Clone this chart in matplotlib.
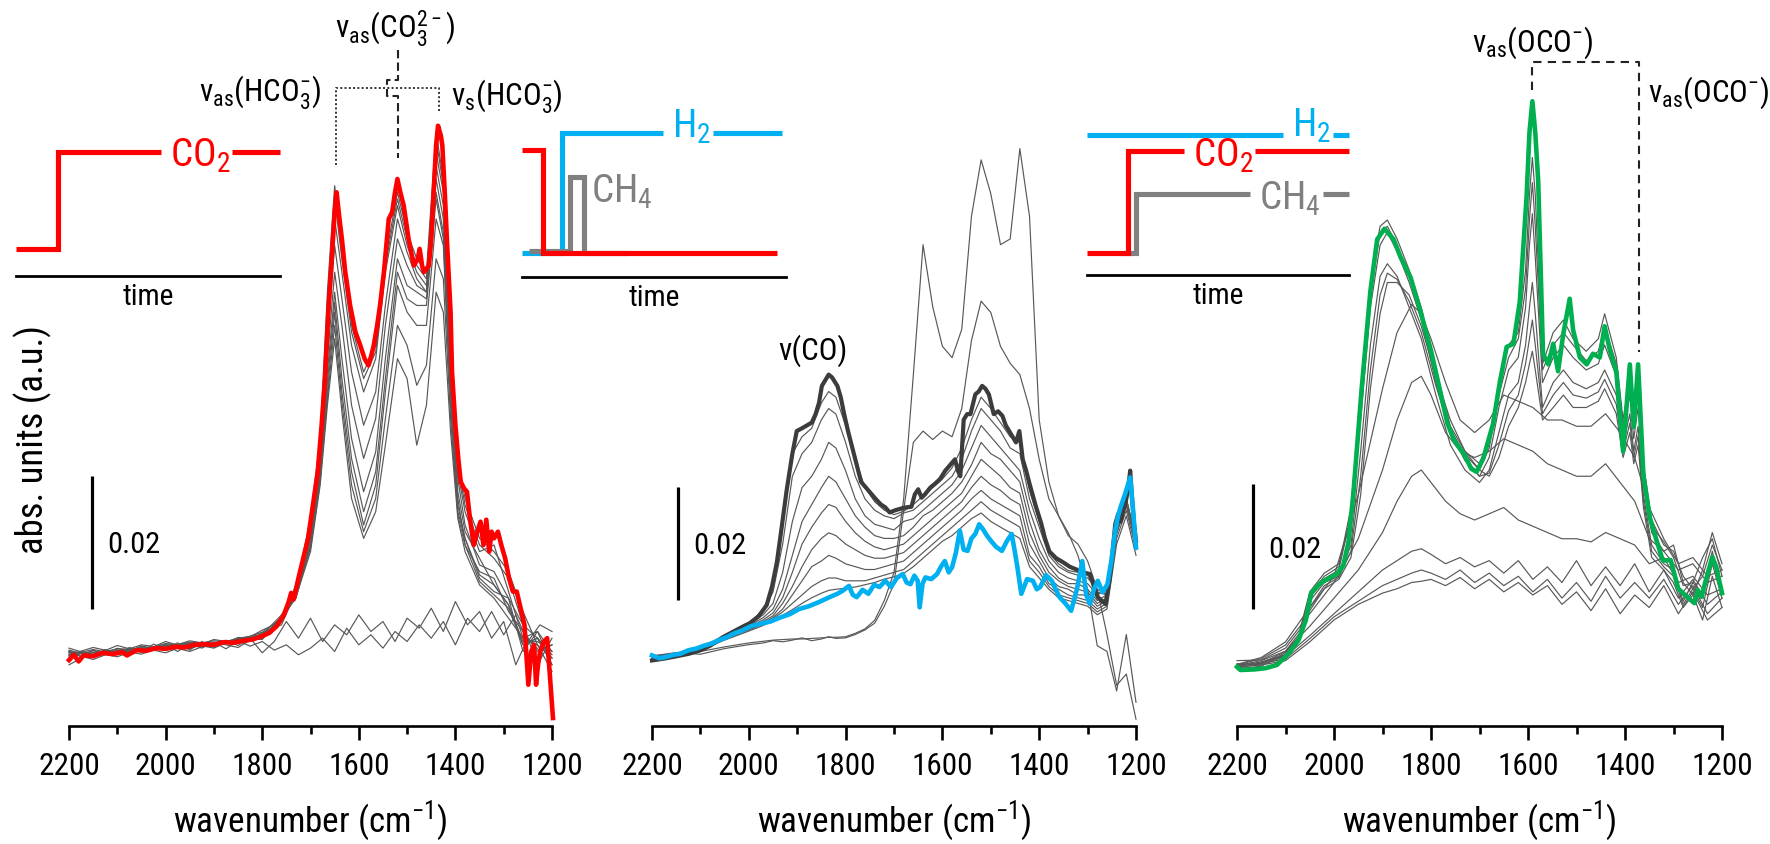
import numpy as np
import matplotlib
matplotlib.use('Agg')
import matplotlib.pyplot as plt
from matplotlib import font_manager
from matplotlib.ticker import MultipleLocator

# narrow face if there is one, else Liberation Sans
_available = {f.name for f in font_manager.fontManager.ttflist}
FONT, K = 'Liberation Sans', 1.0
for cand in ('Liberation Sans Narrow', 'Arial Narrow', 'Roboto Condensed', 'Noto Sans Condensed'):
    if cand in _available:
        FONT, K = cand, 1.15
        break

plt.rcParams['font.family'] = [FONT, 'DejaVu Sans']
plt.rcParams['mathtext.fontset'] = 'custom'
plt.rcParams['mathtext.rm'] = FONT
plt.rcParams['mathtext.it'] = FONT + ':italic'
plt.rcParams['mathtext.default'] = 'regular'

# absorbance values are in units of 0.001 (scale bar = 0.02 -> 20)

# ---- panel 1 : CO2 adsorption (red = last spectrum)
p1_red_wn = [2200, 2190, 2180, 2170, 2150, 2130, 2110, 2090, 2080, 2060, 2040, 2020, 2000, 1980, 1960, 1940,
             1920, 1900, 1880, 1860, 1840, 1820, 1800, 1785, 1770, 1755, 1745, 1740, 1735, 1725, 1715, 1705,
             1695, 1685, 1677, 1670, 1663, 1656, 1650, 1646, 1640, 1635, 1628, 1618, 1607, 1597, 1588, 1580,
             1574, 1569, 1562, 1556, 1548, 1538, 1531, 1525, 1520, 1514, 1507, 1497, 1486, 1478, 1474, 1469,
             1465, 1455, 1450, 1445, 1440, 1436, 1430, 1427, 1422, 1417, 1410, 1407, 1400, 1394, 1389, 1382,
             1376, 1370, 1362, 1355, 1348, 1342, 1336, 1330, 1325, 1320, 1312, 1305, 1297, 1289, 1281, 1273,
             1265, 1257, 1249, 1243, 1237, 1233, 1229, 1225, 1217, 1210, 1205, 1198]
p1_red = [-0.3, 0.5, -0.5, 0.4, 0.3, 0.8, 0.6, 0.9, 0.4, 1.2, 1.1, 1.5, 1.4, 1.7, 1.6, 2.0,
          2.1, 2.0, 2.4, 2.3, 2.6, 2.8, 3.3, 3.8, 4.8, 6.5, 8.5, 9.8, 8.8, 12, 15, 18,
          23, 28, 35, 42, 52, 60, 67, 70, 66, 63, 58, 53, 49, 47, 45, 44,
          45.5, 47, 50, 53, 58, 66, 67, 70, 72, 70, 68, 63, 59, 60, 61.5, 59,
          58, 59, 63, 70, 77, 80, 78.5, 77, 70, 62, 52, 43, 35, 30, 26.5, 25.5,
          25, 21, 17, 19, 20.5, 17, 20.8, 16, 19, 18, 19, 17, 15, 12, 10, 10,
          7.5, 5, -4, 1, 2, -4, -1, 0.8, 2.5, 3, -2, -9]

p1_grid = [2200, 2150, 2100, 2050, 2000, 1950, 1900, 1850, 1800, 1760, 1730, 1700, 1680, 1665, 1650, 1635,
           1615, 1590, 1565, 1545, 1520, 1500, 1480, 1460, 1440, 1425, 1410, 1395, 1380, 1350, 1320, 1290,
           1260, 1230, 1200]
p1_gray = [
    [0.5, 1.6, 0.8, 2.0, 1.5, 2.6, 2.0, 3.0, 3.5, 6.5, 10.5, 21, 33, 55, 71, 62, 50, 43, 47, 60, 70, 64, 60, 58,
     79, 72, 50, 30, 24, 18, 16, 13, 7, 2, -2],
    [1.0, 0.6, 1.4, 1.3, 2.1, 2.0, 2.3, 2.7, 3.9, 6.0, 10.8, 20, 32, 53, 69, 60, 49, 42, 46, 59, 69, 63, 59, 57,
     78, 71, 48, 29, 23, 17, 15, 12, 5, 3, -1],
    [1.5, 0.4, 1.9, 0.9, 2.5, 1.4, 2.8, 2.2, 4.2, 5.5, 11, 19, 30, 50, 66, 58, 47, 40, 45, 58, 68, 62, 58, 56,
     76, 70, 46, 28, 22, 16, 17, 10, 3, 4, 1],
    [-1, 0.9, 0.2, 1.6, 0.8, 2.2, 1.5, 3.1, 2.8, 6.0, 9.5, 20, 31, 48, 62, 54, 43, 35, 40, 53, 66, 61, 57, 55,
     74, 68, 44, 27, 20, 14, 13, 9, 5, -1, 3],
    [0.8, -0.2, 1.2, 0.6, 1.9, 1.0, 2.4, 1.6, 3.8, 5.0, 10, 18, 29, 45, 58, 50, 38, 30, 36, 50, 63, 59, 56, 55,
     72, 66, 42, 25, 19, 15, 11, 8, 2, 3, 0],
    [0.2, 1.1, 0.5, 1.8, 1.2, 2.0, 2.6, 2.3, 3.0, 6.2, 9, 17, 28, 43, 55, 45, 33, 25, 31, 45, 60, 56, 55, 54,
     70, 64, 40, 24, 17, 13, 12, 7, 4, 1, 2],
    [0.6, 0.8, 1.0, 1.4, 1.7, 2.3, 2.1, 2.8, 3.3, 6.0, 9.4, 17.5, 27.5, 41.5, 53.5, 42, 30, 22, 28, 42, 58, 54,
     53, 53, 69, 63, 39, 23, 18, 12.5, 11, 8, 2.5, 2.5, 1],
    [1.2, 0.2, 1.4, 1.0, 2.2, 1.7, 1.8, 2.9, 3.6, 5.5, 9.8, 17, 27, 40, 52, 40, 28, 20, 26, 40, 56, 52, 50, 50,
     66, 62, 38, 22, 18, 12, 10, 9, 1, 4, -1],
    [0.9, 0.5, 1.1, 1.2, 1.9, 2.1, 2.0, 2.7, 3.4, 5.6, 9.5, 16.5, 26.5, 39, 50, 38.5, 26, 19, 24, 36, 50, 47,
     41, 44, 60, 57, 36, 21.5, 17, 11.5, 9.5, 7.5, 2, 3, 0.5],
    [0.4, 1.3, 0.6, 1.5, 1.5, 2.4, 2.2, 2.6, 3.2, 5.8, 9.2, 16, 26, 38, 48, 37, 24, 18, 22, 32, 45, 42, 32, 38,
     55, 52, 34, 21, 16, 11, 9, 6, 3, 2, 0],
]
p1_flat_grid = [2200, 2175, 2150, 2125, 2100, 2075, 2050, 2025, 2000, 1975, 1950, 1925, 1900, 1875, 1850, 1825,
                1800, 1775, 1750, 1725, 1700, 1675, 1650, 1625, 1600, 1575, 1550, 1525, 1500, 1475, 1450, 1425,
                1400, 1375, 1350, 1325, 1300, 1275, 1250, 1225, 1200]
p1_flat = [
    [1.0, 0.2, 1.2, 0.5, 1.5, 0.8, 1.8, 1.2, 2.0, 1.0, 2.2, 1.5, 2.4, 1.4, 2.6, 1.8, 2.5, 1.2, 2.0, 0.5,
     1.5, 3.0, 1.0, 4.5, 2.0, 3.5, 1.5, 4.0, 2.5, 5.0, 3.0, 5.5, 2.0, 6.0, 4.0, 7.0, 3.5, 6.5, 2.5, 5.0, 4.0],
    [0.0, 1.0, 0.3, 1.3, 0.6, 1.6, 1.0, 2.1, 1.4, 2.3, 1.2, 2.5, 1.6, 2.7, 1.9, 3.0, 0.8, 2.5, 5.5, 3.0,
     6.0, 2.5, 5.0, 3.5, 6.5, 4.0, 5.5, 2.5, 6.0, 4.5, 7.5, 4.0, 8.5, 5.0, 7.0, 3.0, 5.5, -1.0, 3.0, 1.0, 2.0],
]

# ---- panel 2 : switch to H2 (dark = first spectrum, blue = last)
p2_dark_wn = [2200, 2170, 2140, 2123, 2100, 2080, 2054, 2030, 2010, 1998, 1980, 1963, 1952, 1942, 1932, 1922,
              1910, 1901, 1890, 1880, 1870, 1862, 1855, 1849, 1842, 1835, 1828, 1817, 1810, 1803, 1795, 1786,
              1777, 1768, 1758, 1748, 1738, 1727, 1718, 1709, 1697, 1685, 1675, 1664, 1657, 1650, 1643, 1636,
              1625, 1615, 1605, 1594, 1584, 1574, 1568, 1563, 1556, 1549, 1542, 1532, 1525, 1518, 1511, 1504,
              1494, 1485, 1476, 1469, 1462, 1455, 1448, 1441, 1434, 1427, 1420, 1408, 1396, 1388, 1379, 1365,
              1351, 1337, 1323, 1310, 1295, 1287, 1279, 1271, 1263, 1255, 1249, 1243, 1237, 1232, 1226, 1220,
              1216, 1212, 1208, 1204, 1200]
p2_dark = [-0.6, -0.2, 0.3, 0.6, 1.2, 2.0, 3.5, 4.6, 5.5, 6.0, 7.2, 9.2, 12.5, 16.8, 23, 29.4,
           36, 40, 40.5, 41, 41.5, 43, 45, 48, 49, 50, 49.5, 48, 46, 43, 40, 37,
           34, 31, 30, 29, 28, 27, 26.5, 25.6, 26, 26.3, 26.5, 26.6, 28.8, 29.7, 28.2, 28.8,
           30, 30.7, 31.5, 33, 34, 35, 33, 32, 42, 43, 43, 46.5, 47, 48, 47.5, 46.5,
           43, 43.5, 42.7, 41, 40, 39, 38, 40, 35, 33, 30.7, 27, 23.7, 21, 18.7, 17.5,
           16.8, 16, 15.5, 15, 14.7, 12.5, 10.6, 10, 9.4, 13.5, 18, 23.5, 25.3, 24, 26, 28,
           30, 33, 28, 23.5, 20.6]
p2_blue_wn = [2200, 2185, 2172, 2155, 2141, 2125, 2109, 2093, 2077, 2062, 2046, 2030, 2014, 1995, 1975, 1955,
              1935, 1915, 1896, 1876, 1856, 1836, 1817, 1805, 1793, 1785, 1777, 1765, 1753, 1741, 1730, 1718,
              1706, 1694, 1682, 1674, 1666, 1658, 1651, 1647, 1641, 1635, 1623, 1611, 1603, 1595, 1587, 1580,
              1572, 1564, 1556, 1548, 1540, 1532, 1524, 1516, 1508, 1500, 1489, 1477, 1467, 1457, 1451, 1445,
              1437, 1425, 1413, 1405, 1398, 1386, 1374, 1366, 1358, 1346, 1334, 1322, 1311, 1303, 1295, 1287,
              1279, 1269, 1259, 1251, 1243, 1237, 1232, 1222, 1212, 1206, 1200]
p2_blue = [0.3, -0.2, 0.0, 0.4, 0.6, 1.2, 1.5, 2.0, 2.4, 3.0, 3.5, 4.2, 4.7, 5.5, 5.9, 6.3,
           7.0, 7.6, 8.5, 9.0, 9.7, 10.5, 11.2, 11.8, 12.6, 11.0, 10.6, 11.9, 11.2, 12.8, 12.4, 13.5,
           12.4, 14.0, 14.7, 13.2, 12.9, 14.4, 13.5, 8.8, 13.0, 14.1, 13.8, 14.7, 16.0, 17.0, 15.0, 15.9,
           18.5, 22.4, 19.0, 18.8, 21.0, 21.8, 23.5, 22.6, 21.5, 20.6, 19.5, 18.8, 20.5, 21.8, 19.0, 15.9,
           11.2, 13.8, 13.5, 12.0, 12.4, 14.5, 13.5, 12.0, 10.6, 9.5, 8.2, 12.0, 17.0, 11.0, 9.4, 12.0,
           13.5, 11.5, 12.9, 17.0, 22.4, 25.0, 26.5, 29.0, 31.8, 26.0, 19.4]

p2_grid = [2200, 2150, 2100, 2050, 2000, 1970, 1950, 1930, 1910, 1890, 1870, 1850, 1835, 1820, 1800, 1780,
           1760, 1740, 1720, 1700, 1680, 1660, 1640, 1620, 1600, 1580, 1560, 1540, 1520, 1500, 1480, 1460,
           1440, 1420, 1400, 1380, 1360, 1340, 1320, 1300, 1280, 1260, 1240, 1220, 1200]
p2_gray = [
    [-0.5, 0.3, 1.5, 3.7, 5.9, 8.4, 12.5, 24, 36, 39, 40.5, 45, 47, 46, 41, 35, 30, 27.5, 26, 25.2, 25.8, 27,
     28.5, 30, 31.5, 33.5, 37, 42, 46, 44, 41.5, 39, 38, 29.5, 24, 18.5, 16.5, 15.3, 15, 14.5, 11.5, 11, 23,
     28, 20.5],
    [-0.4, 0.4, 1.7, 3.8, 6.0, 8.3, 11.5, 20, 32, 36, 38, 42, 44, 43, 38, 32, 28, 26, 25, 24.5, 25.5, 26, 27.5,
     29, 30.5, 32, 35, 40, 44, 42, 40, 37, 36, 28, 23, 18, 16, 15, 14.5, 14, 12, 11, 22, 27, 20],
    [-0.5, 0.5, 1.6, 3.6, 5.8, 7.5, 9.5, 15, 24, 30, 32, 35, 38, 37, 33, 28, 25, 23.5, 23, 22.5, 24, 24.5, 26,
     27.5, 29, 30.5, 33, 37, 41, 39, 37, 35, 33, 26, 21, 17, 15, 14, 13.5, 13, 11, 12, 22, 27, 20],
    [0.0, 0.7, 1.8, 3.5, 5.5, 7.0, 8.5, 12, 18, 24, 27, 30, 32, 31, 28, 25, 23, 21.5, 21, 21, 21.5, 23, 25,
     26, 27.5, 29, 31, 34, 38, 36, 35, 33, 31, 24, 19, 16, 14, 13, 13, 12, 10, 11, 23, 28, 21],
    [-0.3, 0.3, 1.5, 3.4, 5.3, 6.6, 7.8, 10.5, 15, 20, 23, 25.5, 27, 26.5, 24, 22, 20.5, 19.5, 19, 19.5, 20,
     21.5, 23, 24.5, 26, 27.5, 29, 32, 35, 33.5, 32, 30, 29, 22, 18, 15, 13.5, 12.5, 12, 11.5, 9.5, 10.5, 22,
     27, 20],
    [0.2, 0.6, 1.6, 3.3, 5.1, 6.3, 7.3, 9.5, 12.5, 16, 19, 21, 22, 21.5, 20, 19, 18, 17.5, 17.5, 18, 18.5, 20,
     21.5, 23, 24.5, 26, 27.5, 30, 32, 30.5, 29.5, 28, 27, 20, 17, 14, 12.5, 12, 11, 11, 9, 10, 23, 28, 21],
    [-0.2, 0.4, 1.4, 3.2, 4.9, 6.0, 7.0, 8.5, 11, 13.5, 16, 17, 18, 17.5, 16.5, 16, 15.5, 15.5, 16, 16.5, 17,
     18.5, 20, 21.5, 23, 24.5, 26, 28, 29.5, 28, 27, 26, 25, 18, 16, 13, 12, 11, 10.5, 10, 8.5, 9.5, 22, 27, 20],
    [0.0, 0.5, 1.5, 3.2, 4.8, 5.8, 6.8, 8, 9.5, 11, 12.5, 13.5, 14, 14, 13.5, 13.5, 13.5, 14, 14.5, 15, 15.5,
     17, 18.5, 20, 21.5, 23, 24.5, 26, 27.5, 26, 25, 24, 23, 17, 15, 12.5, 11, 10.5, 10, 9.5, 8, 9, 21, 26, 19],
    [0.1, 0.2, 1.2, 3.0, 4.6, 5.6, 6.5, 7.4, 8.4, 9.5, 10.5, 11.3, 11.8, 12.0, 12.2, 12.4, 12.8, 13.2, 13.8,
     14.2, 14.8, 16, 17.5, 19, 20.5, 21.5, 23, 24.5, 25.5, 24, 23, 22, 21, 16, 14, 12, 10.5, 10, 9.5, 9, 7.5,
     8.5, 20, 25, 18],
    # early spectra still carrying carbonate bands
    [-0.5, 0.3, 1.0, 1.8, 2.5, 2.8, 3.0, 3.1, 3.2, 3.2, 3.3, 3.4, 3.5, 3.5, 3.6, 4.2, 5.0, 6.5, 10, 15, 28,
     50, 73, 62, 55, 53, 58, 78, 88, 82, 73, 74, 90, 78, 42, 31, 25, 21.5, 20, 17, 12, 4, -5, -3, -11],
    [0.2, 0.8, 0.5, 1.5, 2.2, 2.5, 2.9, 2.7, 3.0, 3.4, 2.9, 3.2, 3.6, 3.3, 3.4, 4.0, 4.8, 6.0, 9, 13, 26, 38,
     40, 38.5, 40, 39, 44, 56, 63, 61, 55, 52, 50, 44, 35, 28, 25, 22, 18, 12, 2, 1, -6, 4, -8],
]

# ---- panel 3 : CO2 + H2 (green = last spectrum)
p3_green_wn = [2200, 2193, 2163, 2141, 2118, 2096, 2073, 2058, 2047, 2028, 2006, 1995, 1981, 1970, 1960, 1943,
               1925, 1911, 1896, 1877, 1863, 1842, 1821, 1800, 1779, 1766, 1752, 1731, 1717, 1706, 1692, 1672,
               1658, 1644, 1630, 1617, 1603, 1597, 1591, 1585, 1579, 1569, 1558, 1548, 1538, 1527, 1514, 1507,
               1493, 1479, 1466, 1452, 1442, 1431, 1418, 1404, 1390, 1382, 1373, 1362, 1349, 1336, 1322, 1306,
               1290, 1272, 1257, 1250, 1242, 1235, 1220, 1212, 1200]
p3_green = [0.5, 0, 0.1, 0.3, 0.8, 2.4, 4.8, 8, 12.3, 13.9, 14.9, 15.3, 16.7, 20.5, 28.3, 45,
            60.6, 68.9, 70.6, 68.9, 66.1, 62.8, 57.2, 51.1, 43.9, 39.4, 36.7, 34.4, 32.2, 31.7, 33.9, 39.4,
            46.1, 51.7, 52.2, 58.9, 75.6, 86, 91, 86, 78.3, 50.6, 48.9, 52.2, 47.8, 53.9, 59.4, 54.4,
            50, 48.9, 50.6, 50, 55, 51.1, 47.8, 35, 48.9, 38.9, 48.9, 31.1, 24.4, 21, 17.5, 17.6,
            13, 11.7, 10.7, 12.8, 11.7, 13.9, 18.1, 16.5, 12.3]

p3_grid = [2200, 2150, 2100, 2070, 2050, 2020, 1990, 1965, 1945, 1925, 1905, 1890, 1870, 1845, 1820, 1790,
           1760, 1730, 1700, 1680, 1660, 1640, 1620, 1605, 1597, 1591, 1585, 1570, 1548, 1527, 1507, 1480,
           1455, 1442, 1418, 1404, 1390, 1382, 1373, 1362, 1345, 1320, 1300, 1280, 1260, 1240, 1220, 1200]
p3_gray = [
    [0.8, 1.0, 3.0, 6.0, 12, 15, 16.5, 26, 44, 62, 71, 72, 69, 64, 58, 48, 39, 35, 33, 37, 46, 52, 54, 64,
     76, 82, 76, 49, 54, 56, 53, 51, 53, 57, 50, 40, 47, 41, 46, 33, 24, 20, 19, 15, 13, 15, 20, 16],
    [0.2, 0.6, 2.8, 5.6, 11.5, 14.6, 16, 25, 42, 60, 70, 71, 68, 63, 57, 47, 38.5, 34.5, 32, 35.5, 44, 50, 53,
     61, 72, 78, 71, 48, 52, 54, 52, 49.5, 51, 55, 49, 39, 45.5, 39, 44, 31.5, 23, 20.5, 18, 13.5, 14, 18, 21,
     15],
    [1.5, 1.6, 3.5, 6.5, 12.5, 15.5, 17, 24, 40, 58, 68, 70, 67, 62, 56, 46, 38, 34, 31, 34, 42, 48, 50, 58,
     68, 73, 66, 46, 50, 52, 50, 48, 49, 52, 47, 38, 44, 37, 42, 30, 22, 19, 20, 14, 12, 16, 22, 17],
    [0.5, 1.3, 2.5, 5.5, 11, 14, 15, 20, 35, 52, 63, 65, 63, 58, 53, 44, 36, 32, 30, 32, 38, 44, 46, 52,
     58, 62, 57, 42, 46, 48, 46, 45, 46, 48, 44, 36, 41, 35, 39, 28, 20, 17, 16, 11, 14, 12, 19, 13],
    [0.8, 1.1, 2.4, 5.2, 10, 13.5, 14.8, 19, 31, 48, 60, 63.5, 62.5, 59, 54, 45.5, 38, 33.5, 31, 31.5, 36,
     41.5, 44, 49, 53, 56, 52, 41, 44, 46, 44, 43.5, 44.5, 46.5, 42.5, 35, 39.5, 34, 37.5, 27, 19, 16.5, 15,
     10.5, 13, 10, 17, 11.5],
    [1.0, 0.8, 2.2, 5.0, 9.5, 13, 14.5, 18, 28, 45, 57, 62, 62, 60, 55, 47, 40, 35, 32, 31, 34, 39, 42, 46,
     49, 51, 48, 40, 42, 44, 42, 42, 43, 45, 41, 34, 38, 33, 36, 26, 18, 16, 14, 10, 12, 8, 15, 10],
]
p3_low_grid = [2200, 2150, 2100, 2050, 2000, 1950, 1900, 1870, 1840, 1820, 1800, 1770, 1740, 1710, 1680, 1650,
               1620, 1590, 1560, 1530, 1500, 1470, 1440, 1410, 1380, 1350, 1320, 1290, 1260, 1230, 1200]
p3_low = [
    [0.5, 0.8, 1.5, 4.5, 8.0, 10.5, 12.3, 13.0, 14.0, 14.2, 14.5, 13.5, 14.8, 13.0, 14.5, 12.5, 14.0, 12.0,
     13.5, 10.5, 12.5, 9.5, 13.0, 9.0, 12.0, 10.0, 13.5, 9.0, 12.5, 8.0, 10.0],
    [0.3, 1.0, 1.8, 5.0, 8.5, 11.0, 13.5, 14.5, 15.5, 16.0, 15.5, 14.5, 16.0, 14.0, 15.5, 13.5, 15.0, 12.5,
     14.5, 11.5, 14.0, 11.0, 15.0, 11.5, 14.0, 11.5, 14.5, 10.5, 13.5, 9.0, 11.5],
    [0.6, 1.2, 2.2, 5.5, 9.0, 12.5, 16.0, 17.5, 19.0, 19.4, 18.5, 17.0, 18.0, 16.5, 17.5, 15.5, 17.5, 14.5,
     16.5, 14.0, 17.5, 13.5, 16.5, 13.5, 17.0, 12.5, 16.0, 11.5, 14.5, 10.5, 12.5],
    [0.7, 1.5, 3.0, 7.0, 11.5, 16, 22, 27, 31, 32, 30, 27, 25, 24, 25, 26, 24, 23, 22, 21, 21, 20.5, 22, 21,
     20, 17, 18, 14, 15, 12, 13],
    [0.8, 1.8, 4.0, 9.0, 14.0, 21, 32, 40, 46, 47, 44, 38, 35, 34, 35, 37, 36, 35, 33, 32, 31, 31, 33, 30,
     27, 21, 19, 16, 17, 14, 15],
    [0.9, 2.0, 4.5, 10.0, 15.0, 28, 45, 54, 58.5, 57, 53, 46, 40, 38, 40, 44, 43, 42, 40, 40, 39, 39, 41, 38,
     34, 26, 21, 17, 18, 15, 16],
]

# scale bars (x in cm-1, bottom in 0.001 abs units)
bar_len = 20
bar_x = [2152, 2146, 2167]
bar_bottom = [7.35, 10.1, 9.7]

# band markers
hco3_peaks = [1647, 1433]
hco3_feet = [74.1, 82.1]
hco3_level = 85.7
co3_peak = 1518
co3_hop_x = 1542
co3_levels = [91.4, 86.9, 84.4, 75.2]
oco_peaks = [1591, 1372]
oco_feet = [92.8, 50.9]
oco_level = 97.3

# gas-switch schematics (time 0..1, relative level)
in1_co2_t, in1_co2 = [0, 0.159, 0.159, 1.0], [0, 0, 1, 1]
in2_co2_t, in2_co2 = [0, 0.080, 0.080, 0.966], [1, 1, 0, 0]
in2_h2_t, in2_h2 = [0, 0.152, 0.152, 0.985], [0, 0, 1.165, 1.165]
in2_ch4_t, in2_ch4 = [0.027, 0.182, 0.182, 0.235, 0.235, 0.4], [0.02, 0.02, 0.738, 0.738, 0, 0]
in3_h2_t, in3_h2 = [0, 1.0], [1.157, 1.157]
in3_co2_t, in3_co2 = [0, 0.156, 0.156, 1.0], [0, 0, 1, 1]
in3_ch4_t, in3_ch4 = [0.12, 0.187, 0.187, 1.0], [0, 0, 0.578, 0.578]

RED = '#ff0000'
BLUE = '#00b0f0'
GREEN = '#00b050'
DARK = '#3c3c3c'
GRAY = '#585858'
SCHEME_GRAY = '#808080'

W, H = 1770, 844
fig = plt.figure(figsize=(W / 100, H / 100), dpi=100)
fig.patch.set_facecolor('white')


def px_axes(left, right, top, bottom):
    return fig.add_axes([left / W, 1 - bottom / H, (right - left) / W, (bottom - top) / H])


def spectrum_axes(left, right, ylim):
    ax = px_axes(left, right, 0, 726)
    ax.set_xlim(2200, 1200)
    ax.set_ylim(*ylim)
    ax.patch.set_alpha(0)
    for s in ('top', 'left', 'right'):
        ax.spines[s].set_visible(False)
    ax.spines['bottom'].set_linewidth(1.9)
    ax.set_yticks([])
    ax.xaxis.set_major_locator(MultipleLocator(200))
    ax.xaxis.set_minor_locator(MultipleLocator(100))
    ax.tick_params(axis='x', which='major', length=10, width=1.9, direction='out', labelsize=19.5 * K, pad=9)
    ax.tick_params(axis='x', which='minor', length=5.5, width=1.9, direction='out')
    ax.set_xlabel('wavenumber (cm$^{-1}$)', fontsize=22 * K, labelpad=13)
    return ax


def scale_bar(ax, x, y0):
    ax.plot([x, x], [y0, y0 + bar_len], color='black', lw=2.3, solid_capstyle='butt', clip_on=False)
    ax.annotate('%.2f' % (bar_len / 1000), xy=(x, y0 + bar_len / 2), xytext=(11, -2),
                textcoords='offset points', ha='left', va='center', fontsize=19 * K)


ax1 = spectrum_axes(69, 552, (-10.2, 98.9))
ax2 = spectrum_axes(652, 1136, (-12.2, 116.3))
ax3 = spectrum_axes(1237, 1722, (-8.96, 107.2))

ANN = 19.5 * K

# panel 1
for y in p1_flat:
    ax1.plot(p1_flat_grid, y, color=GRAY, lw=0.85, clip_on=False)
for y in p1_gray:
    ax1.plot(p1_grid, y, color=GRAY, lw=0.85, clip_on=False)
ax1.plot(p1_red_wn, p1_red, color=RED, lw=3.3, clip_on=False, zorder=3)
scale_bar(ax1, bar_x[0], bar_bottom[0])

dots = dict(color='#333333', lw=1.4, linestyle=(0, (1, 1.2)))
ax1.plot([hco3_peaks[0], hco3_peaks[0], hco3_peaks[1], hco3_peaks[1]],
         [hco3_feet[0], hco3_level, hco3_level, hco3_feet[1]], **dots)
ax1.plot([co3_peak, co3_peak, co3_hop_x, co3_hop_x, co3_peak, co3_peak],
         [co3_levels[0], co3_levels[1], co3_levels[1], co3_levels[2], co3_levels[2], co3_levels[3]],
         color='#222222', lw=1.5, linestyle=(0, (4, 2)))
ax1.text(1525, 94.6, 'ν$_{as}$(CO$_3^{2-}$)', ha='center', va='center', fontsize=ANN)
ax1.text(1678, 84.9, 'ν$_{as}$(HCO$_3^{-}$)', ha='right', va='center', fontsize=ANN)
ax1.text(1409, 84.4, 'ν$_{s}$(HCO$_3^{-}$)', ha='left', va='center', fontsize=ANN)

# panel 2
for y in p2_gray:
    ax2.plot(p2_grid, y, color=GRAY, lw=0.85, clip_on=False)
ax2.plot(p2_dark_wn, p2_dark, color=DARK, lw=3.0, clip_on=False, zorder=3)
ax2.plot(p2_blue_wn, p2_blue, color=BLUE, lw=3.3, clip_on=False, zorder=4)
scale_bar(ax2, bar_x[1], bar_bottom[1])
ax2.text(1867, 54.2, 'ν(CO)', ha='center', va='center', fontsize=ANN)

# panel 3
for y in p3_low:
    ax3.plot(p3_low_grid, y, color=GRAY, lw=0.85, clip_on=False)
for y in p3_gray:
    ax3.plot(p3_grid, y, color=GRAY, lw=0.85, clip_on=False)
ax3.plot(p3_green_wn, p3_green, color=GREEN, lw=3.3, clip_on=False, zorder=3)
scale_bar(ax3, bar_x[2], bar_bottom[2])
ax3.plot([oco_peaks[0], oco_peaks[0], oco_peaks[1], oco_peaks[1]],
         [oco_feet[0], oco_level, oco_level, oco_feet[1]], color='#222222', lw=1.5, linestyle=(0, (4, 3)))
ax3.text(oco_peaks[0], 100.3, 'ν$_{as}$(OCO$^{-}$)', ha='center', va='center', fontsize=ANN)
ax3.text(1353, 92.3, 'ν$_{as}$(OCO$^{-}$)', ha='left', va='center', fontsize=ANN)

fig.text(33 / W, 1 - 440 / H, 'abs. units (a.u.)', rotation=90, ha='center', va='center', fontsize=23 * K)

# gas switching schematics
renderer = fig.canvas.get_renderer()


def scheme_axes(left, right, bottom, ylim):
    ax = px_axes(left, right, 100, bottom)
    ax.set_xlim(0, 1)
    ax.set_ylim(*ylim)
    ax.patch.set_alpha(0)
    for s in ('top', 'left', 'right'):
        ax.spines[s].set_visible(False)
    ax.spines['bottom'].set_linewidth(2.0)
    ax.set_xticks([])
    ax.set_yticks([])
    ax.annotate('time', xy=(0.5, 0), xycoords='axes fraction', xytext=(0, -15), textcoords='offset points',
                ha='center', va='center', fontsize=18.5 * K)
    return ax


def scheme_line(ax, t, lvl, color, label=None, label_t=None, label_y=None):
    style = dict(color=color, lw=3.7, solid_capstyle='butt', solid_joinstyle='miter', clip_on=False)
    if label is None:
        ax.plot(t, lvl, **style)
        return
    txt = ax.text(label_t, label_y, label, color=color, fontsize=24.5 * K, ha='center', va='baseline')
    bb = txt.get_window_extent(renderer).transformed(ax.transData.inverted())
    per_px = 1.0 / ax.bbox.width
    ax.plot(list(t[:-1]) + [bb.x0 - 9 * per_px], list(lvl[:-1]) + [lvl[-1]], **style)
    ax.plot([bb.x1 + 2 * per_px, t[-1]], [lvl[-1], lvl[-1]], **style)


in1 = scheme_axes(16, 280, 276, (-0.278, 1.536))
scheme_line(in1, in1_co2_t, in1_co2, RED, 'CO$_2$', 0.697, 0.845)

in2 = scheme_axes(522, 786, 277, (-0.233, 1.485))
scheme_line(in2, in2_h2_t, in2_h2, BLUE, 'H$_2$', 0.642, 1.117)
scheme_line(in2, in2_ch4_t, in2_ch4, SCHEME_GRAY)
scheme_line(in2, in2_co2_t, in2_co2, RED)
in2.text(0.261, 0.485, 'CH$_4$', color=SCHEME_GRAY, fontsize=24.5 * K, ha='left', va='baseline')

in3 = scheme_axes(1087, 1349, 275, (-0.216, 1.5))
scheme_line(in3, in3_ch4_t, in3_ch4, SCHEME_GRAY, 'CH$_4$', 0.775, 0.42)
scheme_line(in3, in3_co2_t, in3_co2, RED, 'CO$_2$', 0.519, 0.843)
scheme_line(in3, in3_h2_t, in3_h2, BLUE, 'H$_2$', 0.855, 1.137)

fig.savefig('out.png', dpi=100, facecolor='white')
